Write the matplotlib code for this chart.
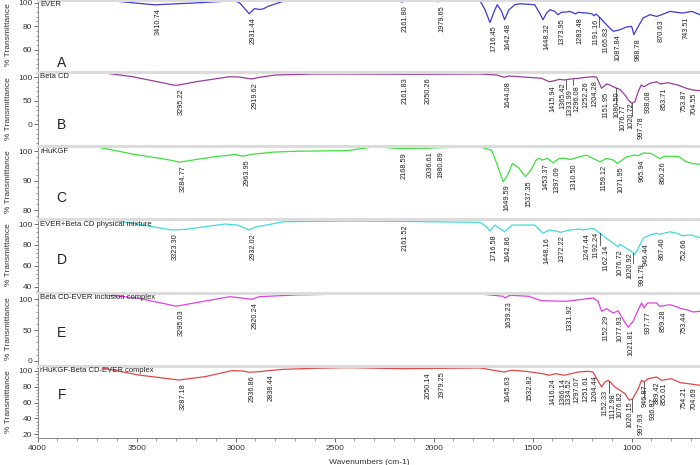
import numpy as np
import matplotlib
matplotlib.use('Agg')
import matplotlib.pyplot as plt
from matplotlib.ticker import MultipleLocator, AutoMinorLocator

plt.rcParams['font.family'] = ['Liberation Sans', 'DejaVu Sans']

# --- spectra: wavenumber (cm-1), % transmittance ---
ever_wn = [4000, 3750, 3685, 3468, 3410, 3180, 3003, 2978, 2932, 2905, 2880, 2860, 2836, 2812, 2761,
           2400, 2170, 2161, 2150, 1985, 1979, 1970, 1766, 1741, 1716, 1691, 1679, 1657, 1642, 1620,
           1590, 1564, 1490, 1465, 1448, 1430, 1413, 1388, 1373, 1355, 1330, 1313, 1283, 1271, 1228,
           1200, 1191, 1180, 1165, 1127, 1093, 1059, 1026, 1000, 989, 967, 942, 908, 874, 849, 807,
           773, 743, 697, 655]
ever_t = [104.5, 103.5, 102.6, 99.1, 98.2, 100, 101.7, 99.5, 90.6, 95, 94.2, 94.8, 96.9, 98.3, 101.1,
          101.5, 101.3, 100.5, 101.3, 101.4, 100.8, 101.4, 101.7, 94, 83.2, 94, 98.3, 92.6, 85.5, 94,
          98.3, 99.1, 98.3, 91.2, 85.5, 91.2, 94, 92.6, 89.8, 91.8, 92.1, 92.6, 90.5, 91.8, 91.2,
          90.5, 88.9, 90.3, 88, 81.3, 75.6, 77, 79.3, 79.8, 72.8, 79.8, 87, 89.8, 88.3, 89.8, 92.6,
          91.8, 91.2, 92.6, 89.8]
ever_peaks = ['3410.74', '2931.44', '2161.80', '1979.65', '1716.45', '1642.48', '1448.32', '1373.95',
              '1283.48', '1191.16', '1165.83', '1087.84', '988.78', '870.63', '743.51']

bcd_wn = [4000, 3690, 3520, 3315, 3295, 3200, 3030, 2980, 2920, 2880, 2800, 2600, 2430, 2161, 2050,
          1766, 1680, 1644, 1620, 1455, 1416, 1390, 1365, 1340, 1307, 1271, 1230, 1194, 1177, 1152,
          1127, 1110, 1093, 1076, 1060, 1034, 1017, 1000, 984, 967, 952, 938, 909, 874, 854, 817,
          767, 724, 690, 655]
bcd_t = [110.6, 110.6, 101.3, 83.6, 83, 90.6, 101.3, 100.5, 96.4, 100, 104.9, 107, 107, 106.5, 106.5,
         107, 104.9, 100, 102.8, 97.9, 90.6, 92.8, 95.7, 94.3, 96.4, 97.9, 100, 101.3, 100, 76.6,
         85.7, 83.6, 80, 76.6, 74.5, 62.3, 51.7, 44.7, 48, 69.4, 83.6, 80, 87.2, 90.6, 85.7, 88.5,
         83.6, 76.6, 73, 71.5]
bcd_peaks = ['3295.22', '2919.62', '2161.83', '2050.26', '1644.08', '1415.94', '1365.42', '1333.99',
             '1296.08', '1252.26', '1204.28', '1151.95', '1080.50', '1076.77', '1020.72', '997.78',
             '938.08', '853.71', '753.87', '704.55']

kgf_wn = [4000, 3690, 3525, 3322, 3285, 3180, 3100, 3000, 2963, 2925, 2810, 2690, 2440, 2300, 2168,
          2100, 2036, 1980, 1766, 1707, 1682, 1649, 1627, 1602, 1568, 1537, 1509, 1483, 1467, 1453,
          1425, 1397, 1365, 1340, 1310, 1290, 1230, 1196, 1159, 1127, 1093, 1072, 1026, 985, 966,
          942, 905, 880, 858, 835, 790, 760, 724, 690, 655]
kgf_t = [101.3, 101.3, 99.1, 96.9, 96.3, 97.4, 98.2, 98.9, 98.3, 98.9, 99.7, 100, 100.2, 101.5, 100.9,
         101, 101, 101.2, 101.5, 100.3, 95.9, 89.7, 91.9, 95.9, 94.2, 91.4, 93.6, 97, 97.6, 97,
         97.6, 96.1, 97.6, 97.6, 97.2, 97.6, 98.7, 97.6, 96.4, 97.6, 97, 95.9, 98.1, 98.7, 98.5,
         99.4, 99.3, 98.4, 97.5, 98.3, 98.3, 98.1, 96.4, 95.8, 95.6]
kgf_peaks = ['3284.77', '2963.95', '2168.59', '2036.61', '1980.89', '1649.59', '1537.35', '1453.37',
             '1397.09', '1310.50', '1159.12', '1071.95', '965.94', '860.26']

mix_wn = [4000, 3690, 3520, 3323, 3255, 3055, 2990, 2932, 2895, 2845, 2760, 2420, 2161, 1766, 1733,
          1716, 1691, 1642, 1605, 1490, 1448, 1418, 1384, 1359, 1313, 1261, 1247, 1194, 1177, 1160,
          1127, 1093, 1068, 1060, 1026, 1000, 984, 967, 942, 908, 874, 860, 807, 770, 745, 700, 655]
mix_t = [105.5, 105.5, 100.7, 94.3, 94.9, 100, 99, 94.3, 97.4, 99, 102.2, 102.9, 102.5, 101.6, 97.4,
         93.3, 99, 92.6, 99, 99, 91.1, 94.3, 93.3, 92.1, 94.3, 95.2, 94.3, 95.9, 93.3, 91.1,
         86.3, 81.5, 78.3, 80.6, 76.7, 73.5, 71, 76.7, 86.3, 89.5, 91.1, 90.1, 92.6, 91.1, 88.8, 89.5, 86.9]
mix_peaks = ['3323.30', '2932.02', '2161.52', '1716.58', '1642.86', '1448.16', '1372.22', '1247.44',
             '1192.24', '1162.14', '1076.72', '1020.92', '991.79', '946.44', '867.40', '752.66']

inc_wn = [4000, 3690, 3490, 3305, 3295, 3030, 2960, 2920, 2880, 2700, 2440, 1766, 1650, 1639, 1615,
          1520, 1455, 1331, 1261, 1194, 1170, 1152, 1127, 1093, 1068, 1043, 1018, 993, 967, 950,
          938, 920, 874, 859, 807, 765, 753, 722, 689, 655]
inc_t = [108.6, 108.6, 101.6, 89.1, 89.1, 104.2, 101.6, 100, 104.2, 107, 108.6, 108.6, 104.9, 102.1, 106.5,
         104.9, 97.7, 96.8, 99.4, 102.1, 96.8, 80.5, 84.7, 77.8, 81.5, 66.9, 54.6, 64.3, 83.1, 94,
         85.9, 94, 94, 88.6, 91.2, 87, 85, 83.1, 79.4, 80.5]
inc_peaks = ['3295.03', '2920.24', '1639.23', '1331.92', '1152.29', '1077.93', '1021.81', '937.77',
             '859.28', '753.44']

cplx_wn = [4000, 3690, 3490, 3287, 3155, 3020, 2960, 2937, 2880, 2838, 2760, 2600, 2430, 2161, 1766,
           1645, 1605, 1535, 1450, 1416, 1385, 1340, 1270, 1222, 1196, 1152, 1135, 1118, 1101, 1085,
           1059, 1034, 1012, 995, 967, 950, 938, 916, 874, 850, 800, 754, 716, 655]
cplx_t = [105.4, 104.7, 94.9, 88.6, 92.8, 100.4, 100, 98.4, 99.1, 100.4, 102.1, 103.4, 104.2, 102.9, 103.8,
          98.7, 100.9, 99.6, 96.6, 94.6, 96.6, 94.6, 98.7, 99.6, 98.7, 79.8, 86.1, 88.2, 84, 79.8,
          75.6, 71.3, 63, 65, 77.6, 88.2, 86.1, 90.3, 92.4, 88.2, 90.3, 85.2, 84, 81.9]
cplx_peaks = ['3287.18', '2936.86', '2838.44', '2050.14', '1979.25', '1645.63', '1532.82', '1416.24',
              '1366.14', '1334.52', '1297.07', '1251.61', '1204.44', '1152.33', '1112.98', '1076.82',
              '1020.15', '997.93', '946.87', '936.87', '889.42', '855.01', '754.21', '704.69']

names = ['EVER', 'Beta CD', 'rHuKGF', 'EVER+Beta CD physical mixture',
         'Beta CD-EVER inclusion complex', 'rHuKGF-Beta CD-EVER complex']
letters = ['A', 'B', 'C', 'D', 'E', 'F']
letter_py = [63, 125, 198, 260, 333, 395]   # vertical pixel position of each panel letter

# nudges (dx, extra drop) in points for labels crowded next to a neighbour
label_nudge = {'1191.16': (-1.5, 0), '1165.83': (2.5, 5),
               '1080.50': (-2.2, 0), '1076.77': (2.0, 9), '1020.72': (-0.5, 0), '997.78': (3.5, 7),
               '1192.24': (-1, 0), '1162.14': (2, 6), '1020.92': (-1, 0), '991.79': (3.5, 5),
               '1112.98': (0, 6), '1020.15': (-1, 0), '997.93': (3.5, 7),
               '946.87': (-1, 0), '936.87': (3.5, 9),
               '1333.99': (0, 4), '1296.08': (0, 2)}

panels = [
    (ever_wn, ever_t, ever_peaks, '#3a3ad6', (42.7, 102.3), [60, 80, 100], 0, 70),
    (bcd_wn, bcd_t, bcd_peaks, '#9a3c9a', (-44, 111.3), [0, 50, 100], 72, 145),
    (kgf_wn, kgf_t, kgf_peaks, '#3ee03e', (77.6, 101.6), [80, 90, 100], 146.5, 217.5),
    (mix_wn, mix_t, mix_peaks, '#3fdcdc', (35.9, 104.8), [40, 60, 80, 100], 219, 291),
    (inc_wn, inc_t, inc_peaks, '#e040e0', (-5, 111), [0, 50, 100], 292.5, 364),
    (cplx_wn, cplx_t, cplx_peaks, '#e04848', (15.3, 106.3), [20, 40, 60, 80, 100], 366, 438),
]

W, H = 700, 465
fig = plt.figure(figsize=(7, 4.65), dpi=100)
x0 = 37.7

for i, (wn, t, peaks, col, ylim, yt, top, bot) in enumerate(panels):
    ax = fig.add_axes([x0 / W, 1 - bot / H, (W - x0) / W, (bot - top) / H])
    ax.plot(wn, t, color=col, lw=0.9)
    ax.set_xlim(4000, 655)
    ax.set_ylim(*ylim)
    ax.set_yticks(yt)
    ax.yaxis.set_minor_locator(AutoMinorLocator(5))
    ax.tick_params(axis='y', which='major', labelsize=6, length=3, width=0.6,
                   colors='#555555', labelcolor='#333333', pad=1)
    ax.tick_params(axis='y', which='minor', length=1.5, width=0.5, colors='#777777')
    for s in ['right', 'bottom']:
        ax.spines[s].set_visible(False)
    ax.spines['left'].set_color('#888888')
    ax.spines['left'].set_linewidth(0.7)
    ax.spines['top'].set_color('#dcdcdc')
    ax.spines['top'].set_linewidth(2.2)
    if i < 5:
        ax.set_xticks([])
    else:
        ax.spines['bottom'].set_visible(True)
        ax.spines['bottom'].set_color('#888888')
        ax.spines['bottom'].set_linewidth(0.7)
        ax.set_xticks([4000, 3500, 3000, 2500, 2000, 1500, 1000])
        ax.xaxis.set_minor_locator(MultipleLocator(100))
        ax.tick_params(axis='x', which='major', labelsize=6, length=3, width=0.6,
                       colors='#555555', labelcolor='#333333', pad=2)
        ax.tick_params(axis='x', which='minor', length=2, width=0.5, colors='#777777')
        ax.set_xlabel('Wavenumbers (cm-1)', fontsize=6, color='#333333', labelpad=5)

    # peak labels under each band
    xs = np.array(wn, dtype=float)[::-1]
    ys = np.array(t, dtype=float)[::-1]
    for p in peaks:
        v = float(p)
        yv = np.interp(v, xs, ys)
        dx, drop = label_nudge.get(p, (0, 0))
        ax.annotate(p, (v, yv), xytext=(2.8 + dx, -2.5 - drop), textcoords='offset points',
                    rotation=90, ha='center', va='top', fontsize=5.3, color='#222222',
                    annotation_clip=False)
        if drop:
            # short leader from the band down to the shifted label
            y_end = ax.transData.inverted().transform(
                ax.transData.transform((v, yv)) - np.array([0, (2.5 + drop) * 100 / 72]))[1]
            ax.plot([v, v], [yv, y_end], color='#222222', lw=0.5)

    ax.text(0.004, 1 - 1.5 / (bot - top), names[i], transform=ax.transAxes,
            fontsize=5.5, va='top', ha='left', color='#222222')
    fig.text((x0 + 24) / W, 1 - letter_py[i] / H, letters[i],
             fontsize=10, va='center', ha='center', color='#222222')
    fig.text(9 / W, 1 - (top + bot) / 2 / H, '% Transmittance', rotation=90,
             fontsize=6, va='center', ha='center', color='#333333')

fig.savefig('out.png', dpi=100)
